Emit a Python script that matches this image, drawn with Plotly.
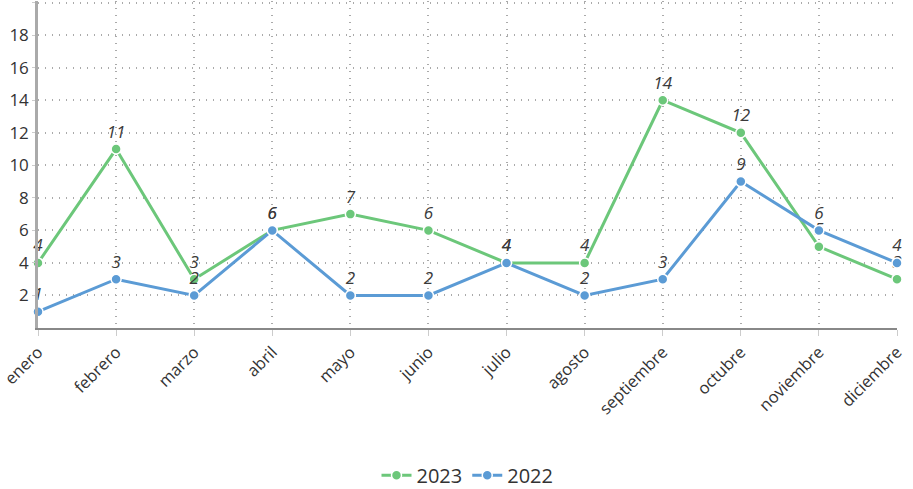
import plotly.graph_objects as go

months = ["enero", "febrero", "marzo", "abril", "mayo", "junio", "julio",
          "agosto", "septiembre", "octubre", "noviembre", "diciembre"]
values_2023 = [4, 11, 3, 6, 7, 6, 4, 4, 14, 12, 5, 3]
values_2022 = [1, 3, 2, 6, 2, 2, 4, 2, 3, 9, 6, 4]
y_ticks = [2, 4, 6, 8, 10, 12, 14, 16, 18, 20]

green = "#6cc77a"
blue = "#5b9bd5"
label_font = dict(family="Open Sans", size=17, color="#3a3a3a")

fig = go.Figure()
fig.add_trace(go.Scatter(
    x=months, y=values_2023, name="2023", mode="lines+markers+text",
    line=dict(color=green, width=3), marker=dict(size=10, color=green, line=dict(color="white", width=1.5)),
    text=[str(v) for v in values_2023], textposition="top center",
    textfont=label_font, texttemplate="<i>%{text}</i>", cliponaxis=False,
))
fig.add_trace(go.Scatter(
    x=months, y=values_2022, name="2022", mode="lines+markers+text",
    line=dict(color=blue, width=3), marker=dict(size=10, color=blue, line=dict(color="white", width=1.5)),
    text=[str(v) for v in values_2022], textposition="top center",
    textfont=label_font, texttemplate="<i>%{text}</i>", cliponaxis=False,
))

fig.update_layout(
    width=913, height=489,
    margin=dict(l=38, r=16, t=1, b=161, autoexpand=False),
    plot_bgcolor="white", paper_bgcolor="white",
    font=dict(family="Open Sans", size=16, color="#333333"),
    showlegend=True,
    legend=dict(orientation="h", x=0.5, xanchor="center", y=-0.45, yanchor="middle",
                font=dict(size=20, color="#333333")),
    xaxis=dict(
        range=[0, 11], showgrid=True, gridcolor="#aaaaaa", griddash="1px,6px", gridwidth=1.5,
        showline=True, linecolor="#888888", linewidth=2, automargin=False,
        tickangle=-45, tickfont=dict(size=16.5, color="#333333"),
        ticks="outside", ticklen=6, tickcolor="#cccccc", zeroline=False,
    ),
    yaxis=dict(
        range=[0, 20.1], tickvals=y_ticks, showgrid=True, gridcolor="#aaaaaa", griddash="1px,6px",
        gridwidth=1.5, showline=True, linecolor="#aaaaaa", linewidth=2.5, automargin=False,
        tickfont=dict(size=17, color="#333333"), zeroline=False,
        ticks="outside", ticklen=3, tickcolor="#cccccc",
    ),
)

fig.write_html("out.html")
